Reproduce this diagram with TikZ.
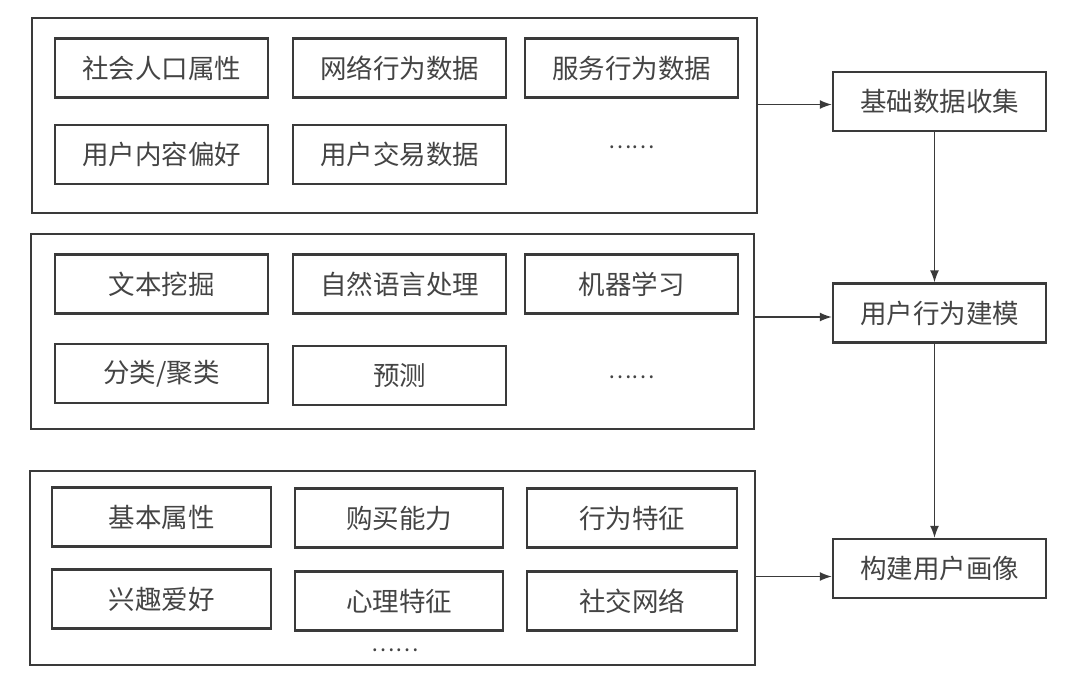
\documentclass[tikz,border=0pt]{standalone}
\usepackage{fontspec}
\setmainfont{Noto Sans CJK SC}
\usetikzlibrary{arrows.meta}
\definecolor{ln}{HTML}{3A3A3A}
\definecolor{tx}{HTML}{444444}
\tikzset{
  ib/.style={draw=ln, line width=2.4pt, minimum height=59pt, inner sep=0pt,
    text=tx, font=\fontsize{26.5}{30}\selectfont},
  ob/.style={draw=ln, line width=2.4pt, inner sep=0pt},
  dots/.style={text=tx, font=\fontsize{22}{26}\selectfont, inner sep=0pt},
  arr/.style={draw=ln, line width=1.4pt, -{Latex[length=12pt,width=9pt]}}
}
\begin{document}
\begin{tikzpicture}[x=1pt,y=-1pt]
\useasboundingbox (0,0) rectangle (1080,681);
% outer boxes
\node[ob, minimum width=725pt, minimum height=195pt] (g1) at (394.5,115.5) {};
\node[ob, minimum width=723pt, minimum height=195pt] (g2) at (392.5,331.5) {};
\node[ob, minimum width=725pt, minimum height=194pt] (g3) at (392.5,568) {};
% group 1
\node[ib, minimum width=213pt] (a1) at (161.5,68) {社会人口属性};
\node[ib, minimum width=213pt] (a2) at (399.5,68) {网络行为数据};
\node[ib, minimum width=213pt] (a3) at (631.5,68) {服务行为数据};
\node[ib, minimum width=213pt] (a4) at (161.5,154.5) {用户内容偏好};
\node[ib, minimum width=213pt] (a5) at (399.5,154.5) {用户交易数据};
\node[dots] (a6) at (631.5,147) {……};
% group 2
\node[ib, minimum width=213pt] (b1) at (161.5,284) {文本挖掘};
\node[ib, minimum width=213pt] (b2) at (399.5,284) {自然语言处理};
\node[ib, minimum width=213pt] (b3) at (631.5,284) {机器学习};
\node[ib, minimum width=213pt] (b4) at (161.5,373.5) {分类/聚类};
\node[ib, minimum width=213pt] (b5) at (399.5,375.5) {预测};
\node[dots] (b6) at (631.5,377) {……};
% group 3
\node[ib, minimum width=219pt] (c1) at (161.5,517) {基本属性};
\node[ib, minimum width=208pt] (c2) at (399,518) {购买能力};
\node[ib, minimum width=210pt] (c3) at (632,518) {行为特征};
\node[ib, minimum width=219pt] (c4) at (161.5,599) {兴趣爱好};
\node[ib, minimum width=208pt] (c5) at (399,601) {心理特征};
\node[ib, minimum width=210pt] (c6) at (632,601) {社交网络};
\node[dots] (c7) at (395,650) {……};
% right column
\node[ib, minimum width=213pt] (r1) at (939.5,101.5) {基础数据收集};
\node[ib, minimum width=213pt] (r2) at (939.5,313) {用户行为建模};
\node[ib, minimum width=213pt] (r3) at (939.5,568.5) {构建用户画像};
% connector anchors
\coordinate (p1) at ([yshift=-3pt]r1.west);
\coordinate (p2) at ([yshift=-4pt]r2.west);
\coordinate (p3) at ([yshift=-8pt]r3.west);
% connectors
\draw[arr] (g1.east |- p1) -- (p1);
\draw[arr] (g2.east |- p2) -- (p2);
\draw[arr] (g3.east |- p3) -- (p3);
\draw[arr] ([xshift=-5pt]r1.south) -- ([xshift=-5pt]r2.north);
\draw[arr] ([xshift=-5pt]r2.south) -- ([xshift=-5pt]r3.north);
\end{tikzpicture}
\end{document}
